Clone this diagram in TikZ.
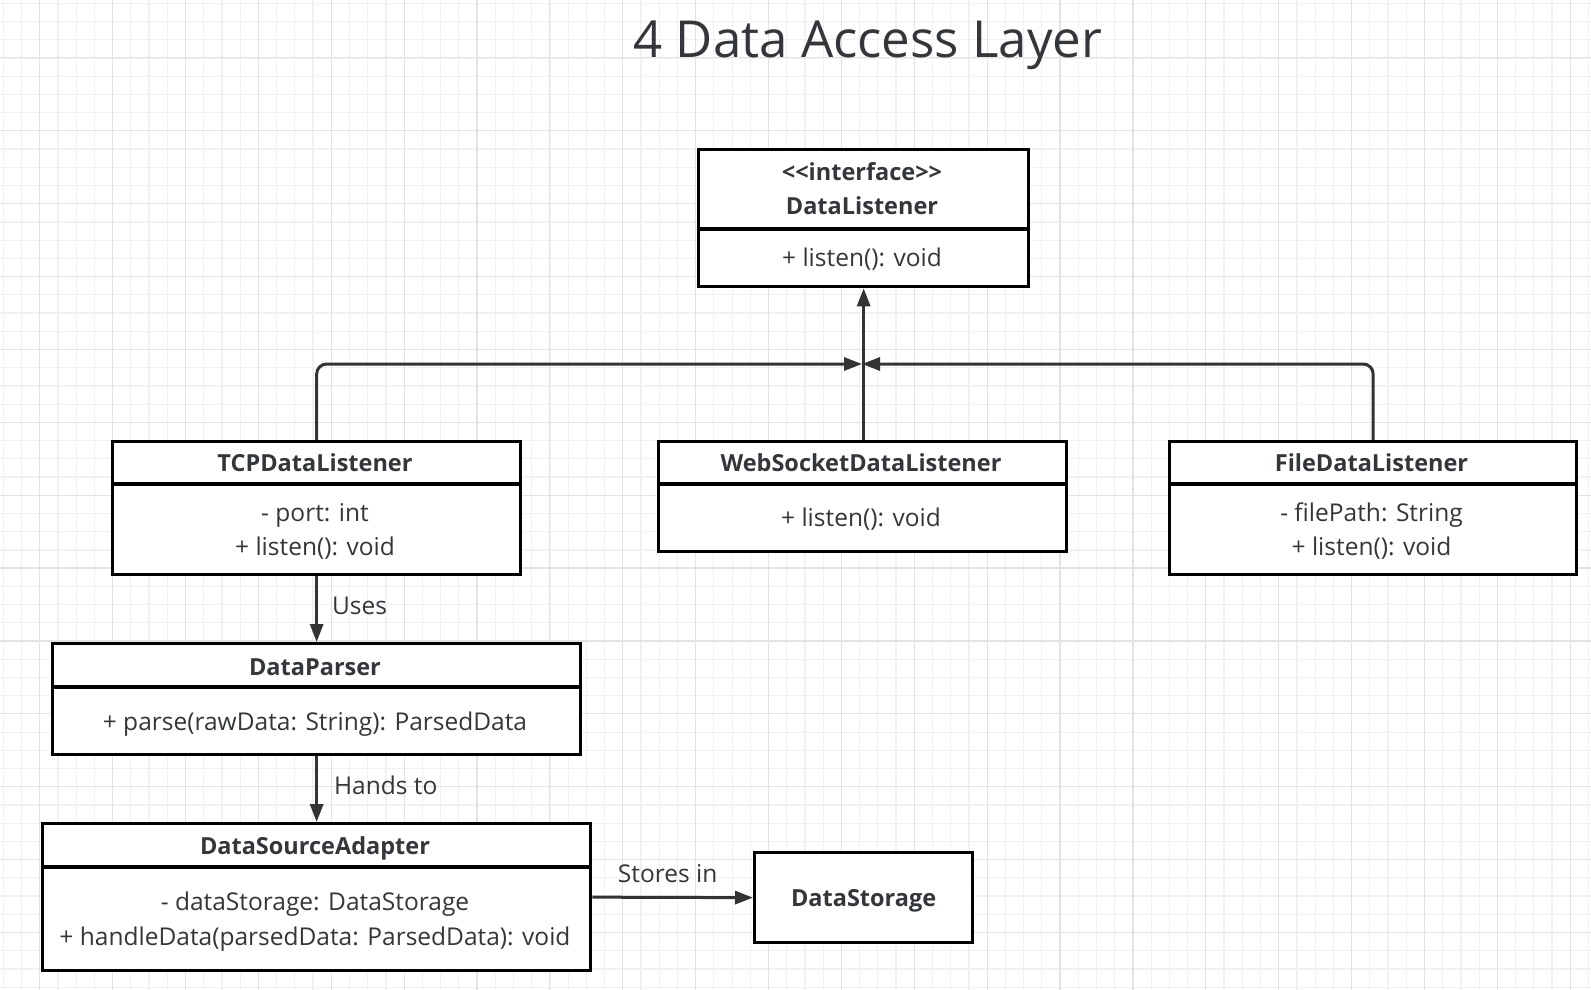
\documentclass[tikz,border=0pt]{standalone}
\usepackage{fontspec}
\setmainfont{Open Sans}
\usetikzlibrary{arrows.meta}
\definecolor{txt}{HTML}{33363B}
\definecolor{linec}{HTML}{333333}
\definecolor{gridminor}{HTML}{F1F1F1}
\definecolor{gridmajor}{HTML}{E3E3E3}
\tikzset{
  classbox/.style={draw=black, line width=3.3pt, fill=white, inner sep=0pt, anchor=north west},
  divline/.style={draw=black, line width=3.3pt},
  conn/.style={draw=linec, line width=3pt, -{Triangle[length=18pt,width=13pt]}},
  hdr/.style={font=\fontsize{23.5}{28}\selectfont\bfseries, text=txt, inner sep=0pt, text height=0.72em, text depth=0.22em, yshift=-6pt},
  bodyt/.style={font=\fontsize{24.5}{28}\selectfont, text=txt, inner sep=0pt, text height=0.72em, text depth=0.22em, yshift=-6pt},
  lbl/.style={font=\fontsize{24.5}{28}\selectfont, text=txt, inner sep=0pt, text height=0.72em, text depth=0.22em},
  titlet/.style={font=\fontsize{51}{56}\selectfont, text=txt, inner sep=0pt, anchor=base}
}
\begin{document}
\begin{tikzpicture}[x=1pt, y=-1pt]
\useasboundingbox (0,0) rectangle (1591,990);
\fill[white] (0,0) rectangle (1591,990);
% grid
\foreach \i in {0,...,87} \draw[gridminor, line width=1.2pt] (3.3+18.22*\i,0) -- (3.3+18.22*\i,990);
\foreach \i in {0,...,54} \draw[gridminor, line width=1.2pt] (0,3.3+18.22*\i) -- (1591,3.3+18.22*\i);
\foreach \i in {0,...,21} \draw[gridmajor, line width=1.2pt] (39.7+72.88*\i,0) -- (39.7+72.88*\i,990);
\foreach \i in {0,...,13} \draw[gridmajor, line width=1.2pt] (0,57.9+72.88*\i) -- (1591,57.9+72.88*\i);

% title
\node[titlet] (title) at (868,58) {4 Data Access Layer};

% DataListener
\node[classbox, minimum width=330pt, minimum height=137pt] (dl) at (697,148) {};
\draw[divline] (dl.west |- 0,229) -- (dl.east |- 0,229);
\node[hdr] (dlh1) at (862,172) {{<}{<}interface{>}{>}};
\node[hdr] (dlh2) at (862,206) {DataListener};
\node[bodyt] (dlb1) at (862,258) {+ listen(): void};

% TCPDataListener
\node[classbox, minimum width=408pt, minimum height=133pt] (tcp) at (111,440) {};
\draw[divline] (tcp.west |- 0,484) -- (tcp.east |- 0,484);
\node[hdr] (tcph) at (315,463) {TCPDataListener};
\node[bodyt] (tcpb1) at (315,513) {- port: int};
\node[bodyt] (tcpb2) at (315,547) {+ listen(): void};

% WebSocketDataListener
\node[classbox, minimum width=408pt, minimum height=110pt] (ws) at (657,440) {};
\draw[divline] (ws.west |- 0,484) -- (ws.east |- 0,484);
\node[hdr] (wsh) at (861,463) {WebSocketDataListener};
\node[bodyt] (wsb1) at (861,518) {+ listen(): void};

% FileDataListener
\node[classbox, minimum width=407pt, minimum height=133pt] (fdl) at (1168,440) {};
\draw[divline] (fdl.west |- 0,484) -- (fdl.east |- 0,484);
\node[hdr] (fdlh) at (1371.5,463) {FileDataListener};
\node[bodyt] (fdlb1) at (1371.5,513) {- filePath: String};
\node[bodyt] (fdlb2) at (1371.5,547) {+ listen(): void};

% DataParser
\node[classbox, minimum width=528pt, minimum height=111pt] (dp) at (51,642) {};
\draw[divline] (dp.west |- 0,687) -- (dp.east |- 0,687);
\node[hdr] (dph) at (315,667) {DataParser};
\node[bodyt] (dpb1) at (315,722) {+ parse(rawData: String): ParsedData};

% DataSourceAdapter
\node[classbox, minimum width=548pt, minimum height=147pt] (dsa) at (41,822) {};
\draw[divline] (dsa.west |- 0,867) -- (dsa.east |- 0,867);
\node[hdr] (dsah) at (315,846) {DataSourceAdapter};
\node[bodyt] (dsab1) at (315,902) {- dataStorage: DataStorage};
\node[bodyt] (dsab2) at (315,937) {+ handleData(parsedData: ParsedData): void};

% DataStorage
\node[classbox, minimum width=218pt, minimum height=90pt] (ds) at (753,851) {};
\node[hdr] (dsh) at (ds.center) {DataStorage};

% inheritance connectors
\coordinate (jn) at (862,364);
\draw[conn, rounded corners=10pt] (tcp.north) |- (jn);
\draw[conn, rounded corners=10pt] (fdl.north) |- (jn);
\draw[conn] (ws.north -| dl.south) -- (dl.south);

% associations
\draw[conn] (tcp.south) -- node[lbl, anchor=west, xshift=14pt, yshift=-3pt] (l1) {Uses} (dp.north);
\draw[conn] (dp.south) -- node[lbl, anchor=west, xshift=16pt, yshift=-3pt] (l2) {Hands to} (dsa.north);
\draw[conn] (dsa.east) -- node[lbl, anchor=south, xshift=-5pt, yshift=11pt] (l3) {Stores in} (ds.west);
\end{tikzpicture}
\end{document}
